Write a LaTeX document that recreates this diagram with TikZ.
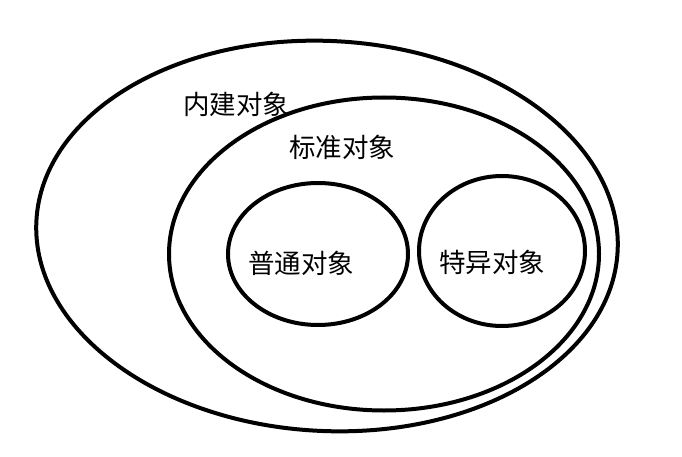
\documentclass[tikz,border=0pt]{standalone}
\usepackage{fontspec}
\setmainfont{Noto Sans CJK SC}
\usetikzlibrary{shapes.geometric}
\begin{document}
\begin{tikzpicture}[x=1pt,y=-1pt,
  set/.style={draw=black,line width=4pt,ellipse,inner sep=0pt},
  lbl/.style={font=\fontsize{26.5}{30}\selectfont,inner sep=0pt,anchor=center}]
\useasboundingbox (0,0) rectangle (682,457);
\node[set,minimum width=582pt,minimum height=390pt,rotate=-3] (builtin) at (327,236) {};
\node[set,minimum width=430pt,minimum height=313pt] (standard) at (384,254) {};
\node[set,minimum width=180pt,minimum height=142pt] (ordinary) at (318,254) {};
\node[set,minimum width=166pt,minimum height=150pt] (exotic) at (502,251) {};
\node[lbl] (t1) at (236,104) {内建对象};
\node[lbl] (t2) at (342,147) {标准对象};
\node[lbl] (t3) at (301,263) {普通对象};
\node[lbl] (t4) at (492,262) {特异对象};
\end{tikzpicture}
\end{document}
